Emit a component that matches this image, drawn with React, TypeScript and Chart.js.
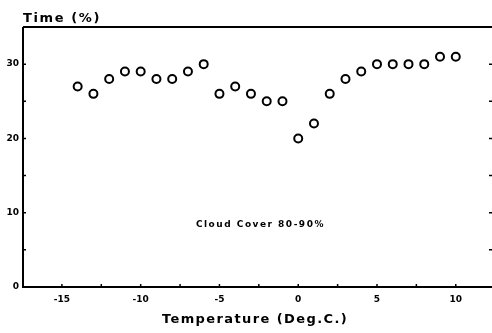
import React, { useEffect, useRef } from "react";
import { Chart, registerables } from "chart.js";

Chart.register(...registerables);

const temperatures = [-14, -13, -12, -11, -10, -9, -8, -7, -6, -5, -4, -3, -2, -1, 0, 1, 2, 3, 4, 5, 6, 7, 8, 9, 10];
const timePercent = [27, 26, 28, 29, 29, 28, 28, 29, 30, 26, 27, 26, 25, 25, 20, 22, 26, 28, 29, 30, 30, 30, 30, 31, 31];
const xTickValues = [-15, -10, -5, 0, 5, 10];
const xMinorTicks = [-12.5, -7.5, -2.5, 2.5, 7.5];
const yTickValues = [0, 10, 20, 30];
const yMinorTicks = [5, 15, 25];
const yTitle = "Time (%)";
const xTitle = "Temperature (Deg.C.)";
const annotationText = "Cloud Cover 80-90%";
const annotationX = -2.4;
const annotationY = 8.4;

const FONT = "'DejaVu Sans', sans-serif";

const framePlugin = {
  id: "frame",
  afterDraw(chart: any) {
    const ctx = chart.ctx;
    const { left, top, bottom } = chart.chartArea;
    const right = chart.width;
    const xs = chart.scales.x;
    const ys = chart.scales.y;
    ctx.save();
    ctx.strokeStyle = "#000";
    ctx.lineWidth = 2;
    ctx.beginPath();
    ctx.moveTo(left, top);
    ctx.lineTo(right, top);
    ctx.moveTo(left, top);
    ctx.lineTo(left, bottom);
    ctx.lineTo(right, bottom);
    ctx.stroke();
    ctx.lineWidth = 1.5;
    ctx.beginPath();
    [...xTickValues, ...xMinorTicks].forEach((v) => {
      const px = xs.getPixelForValue(v);
      ctx.moveTo(px, bottom);
      ctx.lineTo(px, bottom - 3);
    });
    [...yTickValues, ...yMinorTicks].forEach((v) => {
      const py = ys.getPixelForValue(v);
      ctx.moveTo(left, py);
      ctx.lineTo(left + 3, py);
      ctx.moveTo(right, py);
      ctx.lineTo(right - 3, py);
    });
    ctx.stroke();

    ctx.fillStyle = "#000";
    ctx.textBaseline = "middle";
    ctx.textAlign = "left";
    ctx.font = `bold 13px ${FONT}`;
    (ctx as any).letterSpacing = "1.6px";
    ctx.fillText(yTitle, left, top - 8);
    ctx.textAlign = "center";
    ctx.font = `bold 13px ${FONT}`;
    (ctx as any).letterSpacing = "1.4px";
    ctx.fillText(xTitle, 255, bottom + 33);
    ctx.font = `bold 9px ${FONT}`;
    (ctx as any).letterSpacing = "1.5px";
    ctx.fillText(annotationText, xs.getPixelForValue(annotationX), ys.getPixelForValue(annotationY));
    ctx.restore();
  },
};

export default function App() {
  const ref = useRef<HTMLCanvasElement>(null);
  useEffect(() => {
    const chart = new Chart(ref.current!, {
      type: "scatter",
      data: {
        datasets: [
          {
            data: temperatures.map((t, i) => ({ x: t, y: timePercent[i] })),
            pointStyle: "circle",
            pointRadius: 4,
            pointBorderWidth: 2,
            pointBorderColor: "#000",
            pointBackgroundColor: "#fff",
            showLine: false,
          },
        ],
      },
      options: {
        animation: false,
        responsive: false,
        layout: { autoPadding: false, padding: { top: 27, right: 0, left: 0, bottom: 0 } },
        plugins: { legend: { display: false }, tooltip: { enabled: false } },
        scales: {
          x: {
            type: "linear",
            min: -17.47,
            max: 12.3,
            grid: { display: false, drawTicks: false },
            border: { display: false },
            afterBuildTicks: (s: any) => {
              s.ticks = xTickValues.map((v) => ({ value: v }));
            },
            afterFit: (s: any) => {
              s.height = 46;
              s.paddingLeft = 0;
              s.paddingRight = 0;
            },
            ticks: {
              padding: 7,
              color: "#000",
              font: { family: FONT, size: 9, weight: "bold" },
              callback: (v: any) => String(v),
            },
          },
          y: {
            type: "linear",
            min: 0,
            max: 35,
            grid: { display: false, drawTicks: false },
            border: { display: false },
            afterBuildTicks: (s: any) => {
              s.ticks = yTickValues.map((v) => ({ value: v }));
            },
            afterFit: (s: any) => {
              s.width = 23;
              s.paddingTop = 0;
              s.paddingBottom = 0;
            },
            ticks: {
              padding: 4,
              color: "#000",
              font: { family: FONT, size: 9, weight: "bold" },
              callback: (v: any) => String(v),
            },
          },
        },
      },
      plugins: [framePlugin],
    });
    return () => chart.destroy();
  }, []);
  return (
    <div style={{ position: "fixed", left: 0, top: 0, width: 492, height: 333, background: "#fff" }}>
      <canvas ref={ref} width={492} height={333} style={{ display: "block" }} />
    </div>
  );
}
